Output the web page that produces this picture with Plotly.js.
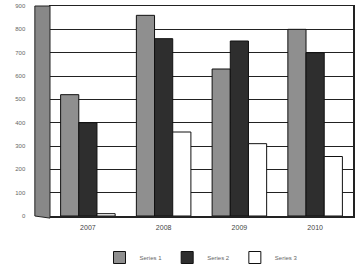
<!DOCTYPE html>
<html><head><meta charset="utf-8">
<script src="https://cdn.plot.ly/plotly-3.0.1.min.js"></script>
<style>html,body{margin:0;padding:0;background:#fff}#c{width:358px;height:272px}</style>
</head><body><div id="c"></div>
<script>
var categories = ["2007", "2008", "2009", "2010"];
var seriesNames = ["Series 1", "Series 2", "Series 3"];
var series1 = [520, 860, 630, 800];
var series2 = [400, 760, 750, 700];
var series3 = [10, 360, 310, 255];
var yTicks = [0, 100, 200, 300, 400, 500, 600, 700, 800, 900];

var colors = ["#8f8f8f", "#2e2e2e", "#ffffff"];
var vals = [series1, series2, series3];
var traces = vals.map(function(v, i){
  return {type:"bar", x:categories, y:v, name:seriesNames[i],
    marker:{color:colors[i], line:{color:"#111", width:1}}};
});
var layout = {
  width:358, height:272,
  margin:{l:50, r:5, t:6, b:56, autoexpand:false},
  paper_bgcolor:"#fff", plot_bgcolor:"#fff",
  barmode:"group", bargap:0.28, bargroupgap:0,
  font:{family:"Liberation Sans, Arial, sans-serif", size:7, color:"#555"},
  xaxis:{type:"category", showgrid:false, zeroline:false, showline:true, linecolor:"#222", linewidth:1.5,
    ticks:"", tickfont:{size:7, color:"#444"}, mirror:true, ticklabelstandoff:4},
  yaxis:{range:[0,900], tickvals:yTicks, ticktext:yTicks.map(String), showgrid:true, gridcolor:"#222", gridwidth:1,
    zeroline:false, showline:true, linecolor:"#222", linewidth:1.5, mirror:true, ticks:"", tickfont:{size:6, color:"#666"}, ticklabelstandoff:22},
  legend:{orientation:"h", x:0.5, xanchor:"center", yref:"container", y:0.0, yanchor:"bottom",
    font:{size:6, color:"#666"}, itemwidth:30, tracegroupgap:0},
  shapes:[{type:"path", xref:"paper", yref:"paper", path:"M -0.05 0.0 L 0 -0.01 L 0 1 L -0.05 1.0 Z",
    fillcolor:"#888", line:{color:"#222", width:1}, layer:"above"}]
};
Plotly.newPlot("c", traces, layout, {displayModeBar:false, staticPlot:true});
</script></body></html>
